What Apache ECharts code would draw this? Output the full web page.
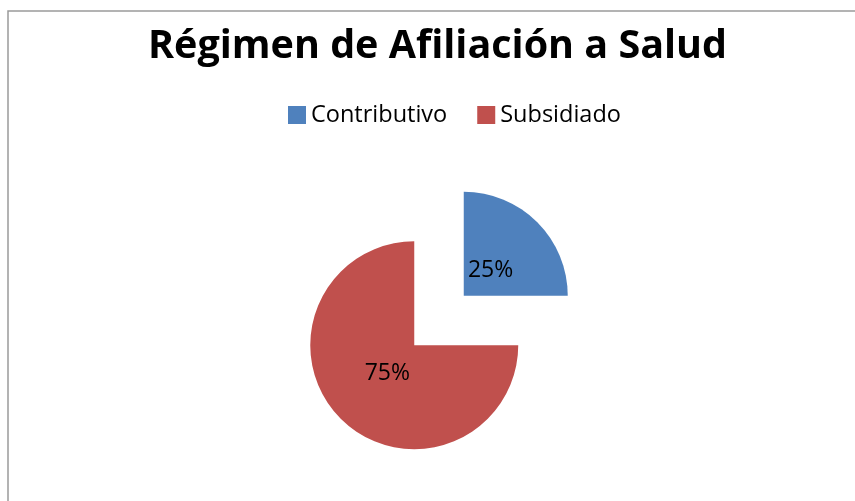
<!DOCTYPE html>
<html>
<head>
<meta charset="utf-8">
<title>Régimen de Afiliación a Salud</title>
<script src="https://cdn.jsdelivr.net/npm/echarts@6/dist/echarts.min.js"></script>
<style>
  html, body { margin: 0; padding: 0; background: #fff; }
  #chart { width: 855px; height: 501px; }
</style>
</head>
<body>
<div id="chart"></div>
<script>
// datos del gráfico
const categorias = ['Contributivo', 'Subsidiado'];
const porcentajes = [25, 75];
const colores = ['#4F81BD', '#C0504D'];

const chart = echarts.init(document.getElementById('chart'));

const datos = categorias.map(function (nombre, i) {
  return { name: nombre, value: porcentajes[i], selected: true, itemStyle: { color: colores[i] } };
});

const option = {
  animation: false,
  title: {
    text: 'Régimen de Afiliación a Salud',
    left: 143,
    top: 22,
    textStyle: {
      fontFamily: 'Open Sans',
      fontWeight: 'bold',
      fontSize: 39.5,
      color: '#000'
    }
  },
  legend: {
    left: 283,
    top: 98,
    itemWidth: 18,
    itemHeight: 18,
    itemGap: 30,
    icon: 'rect',
    selectedMode: false,
    data: categorias,
    textStyle: { fontFamily: 'Open Sans', fontSize: 23.5, color: '#000' }
  },
  graphic: [{
    type: 'rect',
    silent: true,
    shape: { x: 8, y: 11, width: 900, height: 600 },
    style: { fill: 'none', stroke: '#9a9a9a', lineWidth: 1.5 }
  }],
  series: [
    {
      // sectores separados
      name: 'Régimen',
      type: 'pie',
      center: [439, 320.5],
      radius: 104,
      startAngle: 90,
      clockwise: true,
      selectedMode: 'multiple',
      selectedOffset: 35,
      silent: true,
      label: { show: false },
      labelLine: { show: false },
      emphasis: { disabled: true },
      select: { itemStyle: { borderWidth: 0 }, label: { show: false } },
      data: datos
    },
    {
      // solo etiquetas de porcentaje
      name: 'Etiquetas',
      type: 'pie',
      center: [439, 322],
      radius: 140,
      startAngle: 90,
      clockwise: true,
      silent: true,
      z: 3,
      itemStyle: { color: 'rgba(0,0,0,0)' },
      emphasis: { disabled: true },
      label: {
        show: true,
        position: 'inside',
        formatter: '{c}%',
        fontFamily: 'Open Sans',
        fontSize: 23,
        color: '#000'
      },
      labelLine: { show: false },
      data: categorias.map(function (nombre, i) {
        return { name: nombre, value: porcentajes[i] };
      })
    }
  ]
};

chart.setOption(option);
</script>
</body>
</html>
